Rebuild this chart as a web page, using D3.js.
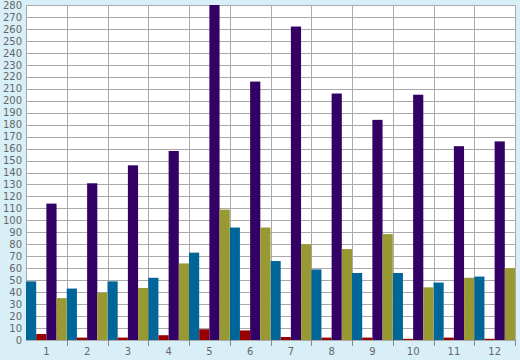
<!DOCTYPE html>
<html><head><meta charset="utf-8">
<script src="https://cdn.jsdelivr.net/npm/d3@7"></script>
<style>html,body{margin:0;padding:0;background:#d9eff7;}svg{display:block;}</style>
</head><body>
<svg id="c" width="520" height="360"></svg>
<script>
const categories = ["1","2","3","4","5","6","7","8","9","10","11","12"];
const seriesNames = ["A","B","C","D"];
const blueVals   = [49, 43, 49, 52, 73, 94, 66, 59, 56, 56, 48, 53];
const redVals    = [5, 2, 2, 4, 9, 8, 2.5, 2, 2, 1, 2, 1];
const purpleVals = [114, 131, 146, 158, 280, 216, 262, 206, 184, 205, 162, 166];
const oliveVals  = [35, 39.5, 43.5, 64, 109, 94, 80, 76, 88.5, 44, 52, 60];
const yTicks = d3.range(0, 281, 10);
const colors = ["#006699", "#990000", "#330066", "#999933"];

const series = [blueVals, redVals, purpleVals, oliveVals];
const svg = d3.select("#c");
const L = 26, R = 515, T = 5, B = 340;
const x = d3.scaleBand().domain(categories).range([L, R]).padding(0);
const xs = d3.scaleBand().domain(d3.range(series.length)).range([0, x.bandwidth()]).padding(0);
const y = d3.scaleLinear().domain([0, 280]).range([B, T]);

svg.append("rect").attr("x", L).attr("y", T).attr("width", R - L).attr("height", B - T).attr("fill", "#ffffff");

// grid
svg.append("g").selectAll("line").data(yTicks).join("line")
  .attr("x1", L).attr("x2", R).attr("y1", d => Math.round(y(d)) + 0.5).attr("y2", d => Math.round(y(d)) + 0.5)
  .attr("stroke", "#aaaaaa").attr("stroke-width", 1);
const bounds = categories.map(c => x(c)).concat([R]);
svg.append("g").selectAll("line").data(bounds).join("line")
  .attr("x1", d => Math.round(d) + 0.5).attr("x2", d => Math.round(d) + 0.5).attr("y1", T).attr("y2", B)
  .attr("stroke", "#aaaaaa").attr("stroke-width", 1);

svg.append("clipPath").attr("id", "clip").append("rect").attr("x", L).attr("y", T).attr("width", R - L).attr("height", B - T);

const g = svg.append("g").attr("clip-path", "url(#clip)");
series.forEach((vals, si) => {
  g.append("g").selectAll("rect").data(vals).join("rect")
    .attr("x", (d, i) => x(categories[i]) + xs(si))
    .attr("width", xs.bandwidth())
    .attr("y", d => y(d))
    .attr("height", d => B - y(d))
    .attr("fill", colors[si]);
});

// y axis labels
const yAxis = d3.axisLeft(y).tickValues(yTicks).tickSize(0).tickPadding(4);
const ya = svg.append("g").attr("transform", `translate(${L},0)`).call(yAxis);
ya.select(".domain").remove();
ya.selectAll("text").attr("fill", "#666666").style("font-family", "DejaVu Sans, Verdana, sans-serif").style("font-size", "10px");

// x axis
const xAxis = d3.axisBottom(x).tickSize(0).tickPadding(8);
const xa = svg.append("g").attr("transform", `translate(0,${B})`).call(xAxis);
xa.select(".domain").remove();
xa.selectAll("text").attr("fill", "#666666").style("font-family", "DejaVu Sans, Verdana, sans-serif").style("font-size", "10px");
svg.append("g").selectAll("line").data(bounds.slice(1)).join("line")
  .attr("x1", d => Math.round(d) + 0.5).attr("x2", d => Math.round(d) + 0.5).attr("y1", B).attr("y2", B + 6)
  .attr("stroke", "#888888").attr("stroke-width", 1);
</script>
</body></html>
